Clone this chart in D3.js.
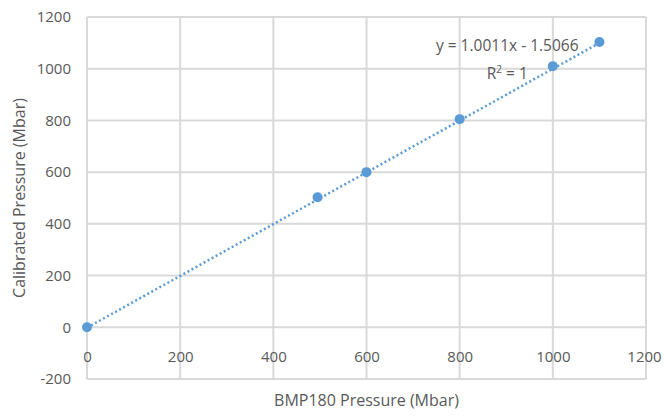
<!DOCTYPE html>
<html>
<head>
<meta charset="utf-8">
<script src="https://cdn.jsdelivr.net/npm/d3@7"></script>
<style>
  body { margin: 0; background: #fff; }
  svg text { font-family: "Open Sans", "Liberation Sans", sans-serif; fill: #595959; }
</style>
</head>
<body>
<div id="chart"></div>
<script>
// data
const bmpPressure = [0, 495, 600, 800, 1000, 1100];
const calibratedPressure = [0, 503, 600, 805, 1010, 1103];
const xTicks = [0, 200, 400, 600, 800, 1000, 1200];
const yTicks = [-200, 0, 200, 400, 600, 800, 1000, 1200];
const trendSlope = 1.0011;
const trendIntercept = -1.5066;
const trendLabel = "y = 1.0011x - 1.5066";
const xTitle = "BMP180 Pressure (Mbar)";
const yTitle = "Calibrated Pressure (Mbar)";

const W = 664, H = 416;
const margin = {top: 17, right: 18, bottom: 37, left: 87};
const width = W - margin.left - margin.right;
const height = H - margin.top - margin.bottom;

const svg = d3.select("#chart")
  .append("svg")
  .attr("width", W)
  .attr("height", H);

const g = svg.append("g")
  .attr("transform", `translate(${margin.left},${margin.top})`);

const x = d3.scaleLinear().domain([0, 1200]).range([0, width]);
const y = d3.scaleLinear().domain([-200, 1200]).range([height, 0]);

// plain "-200" style labels, like the original
const fmt = d => (d < 0 ? "-" : "") + Math.abs(d);

// gridlines
g.selectAll(".hgrid")
  .data(yTicks)
  .enter()
  .append("line")
  .attr("x1", 0)
  .attr("x2", width)
  .attr("y1", d => y(d))
  .attr("y2", d => y(d))
  .attr("stroke", "#d9d9d9")
  .attr("stroke-width", 2);

g.selectAll(".vgrid")
  .data(xTicks)
  .enter()
  .append("line")
  .attr("x1", d => x(d))
  .attr("x2", d => x(d))
  .attr("y1", 0)
  .attr("y2", height)
  .attr("stroke", "#d9d9d9")
  .attr("stroke-width", 2);

// axes (labels only)
const xAxis = g.append("g")
  .attr("transform", `translate(0,${y(0)})`)
  .call(d3.axisBottom(x).tickValues(xTicks).tickFormat(fmt).tickSize(0).tickPadding(24));
xAxis.select(".domain").remove();
xAxis.selectAll("text").style("font-size", "15px");
// keep the last label inside the window
xAxis.selectAll("text").filter(d => d === 1200).attr("dx", -2);

const yAxis = g.append("g")
  .call(d3.axisLeft(y).tickValues(yTicks).tickFormat(fmt).tickSize(0).tickPadding(16));
yAxis.select(".domain").remove();
yAxis.selectAll("text").style("font-size", "15px");

// trendline
const trendX = [0, d3.max(bmpPressure)];
g.append("path")
  .datum(trendX)
  .attr("fill", "none")
  .attr("stroke", "#5b9bd5")
  .attr("stroke-width", 2.5)
  .attr("stroke-dasharray", "2,2.6")
  .attr("d", d3.line()
    .x(d => x(d))
    .y(d => y(trendSlope * d + trendIntercept)));

// points
g.selectAll(".pt")
  .data(bmpPressure)
  .enter()
  .append("circle")
  .attr("cx", d => x(d))
  .attr("cy", (d, i) => y(calibratedPressure[i]))
  .attr("r", 5)
  .attr("fill", "#5b9bd5");

// trendline label
const eq = g.append("text")
  .attr("text-anchor", "middle")
  .style("font-size", "15.5px");
eq.append("tspan")
  .attr("x", x(900) + 1)
  .attr("y", 34)
  .text(trendLabel);
const r2 = eq.append("tspan")
  .attr("x", x(900) + 1)
  .attr("y", 62);
r2.append("tspan").text("R");
r2.append("tspan").attr("dy", -6).style("font-size", "10px").text("2");
r2.append("tspan").attr("dy", 6).text(" = 1");

// axis titles
svg.append("text")
  .attr("x", margin.left + width / 2)
  .attr("y", 406)
  .attr("text-anchor", "middle")
  .style("font-size", "16px")
  .text(xTitle);

svg.append("text")
  .attr("transform", `translate(25,${margin.top + height / 2}) rotate(-90)`)
  .attr("text-anchor", "middle")
  .style("font-size", "16px")
  .text(yTitle);
</script>
</body>
</html>
